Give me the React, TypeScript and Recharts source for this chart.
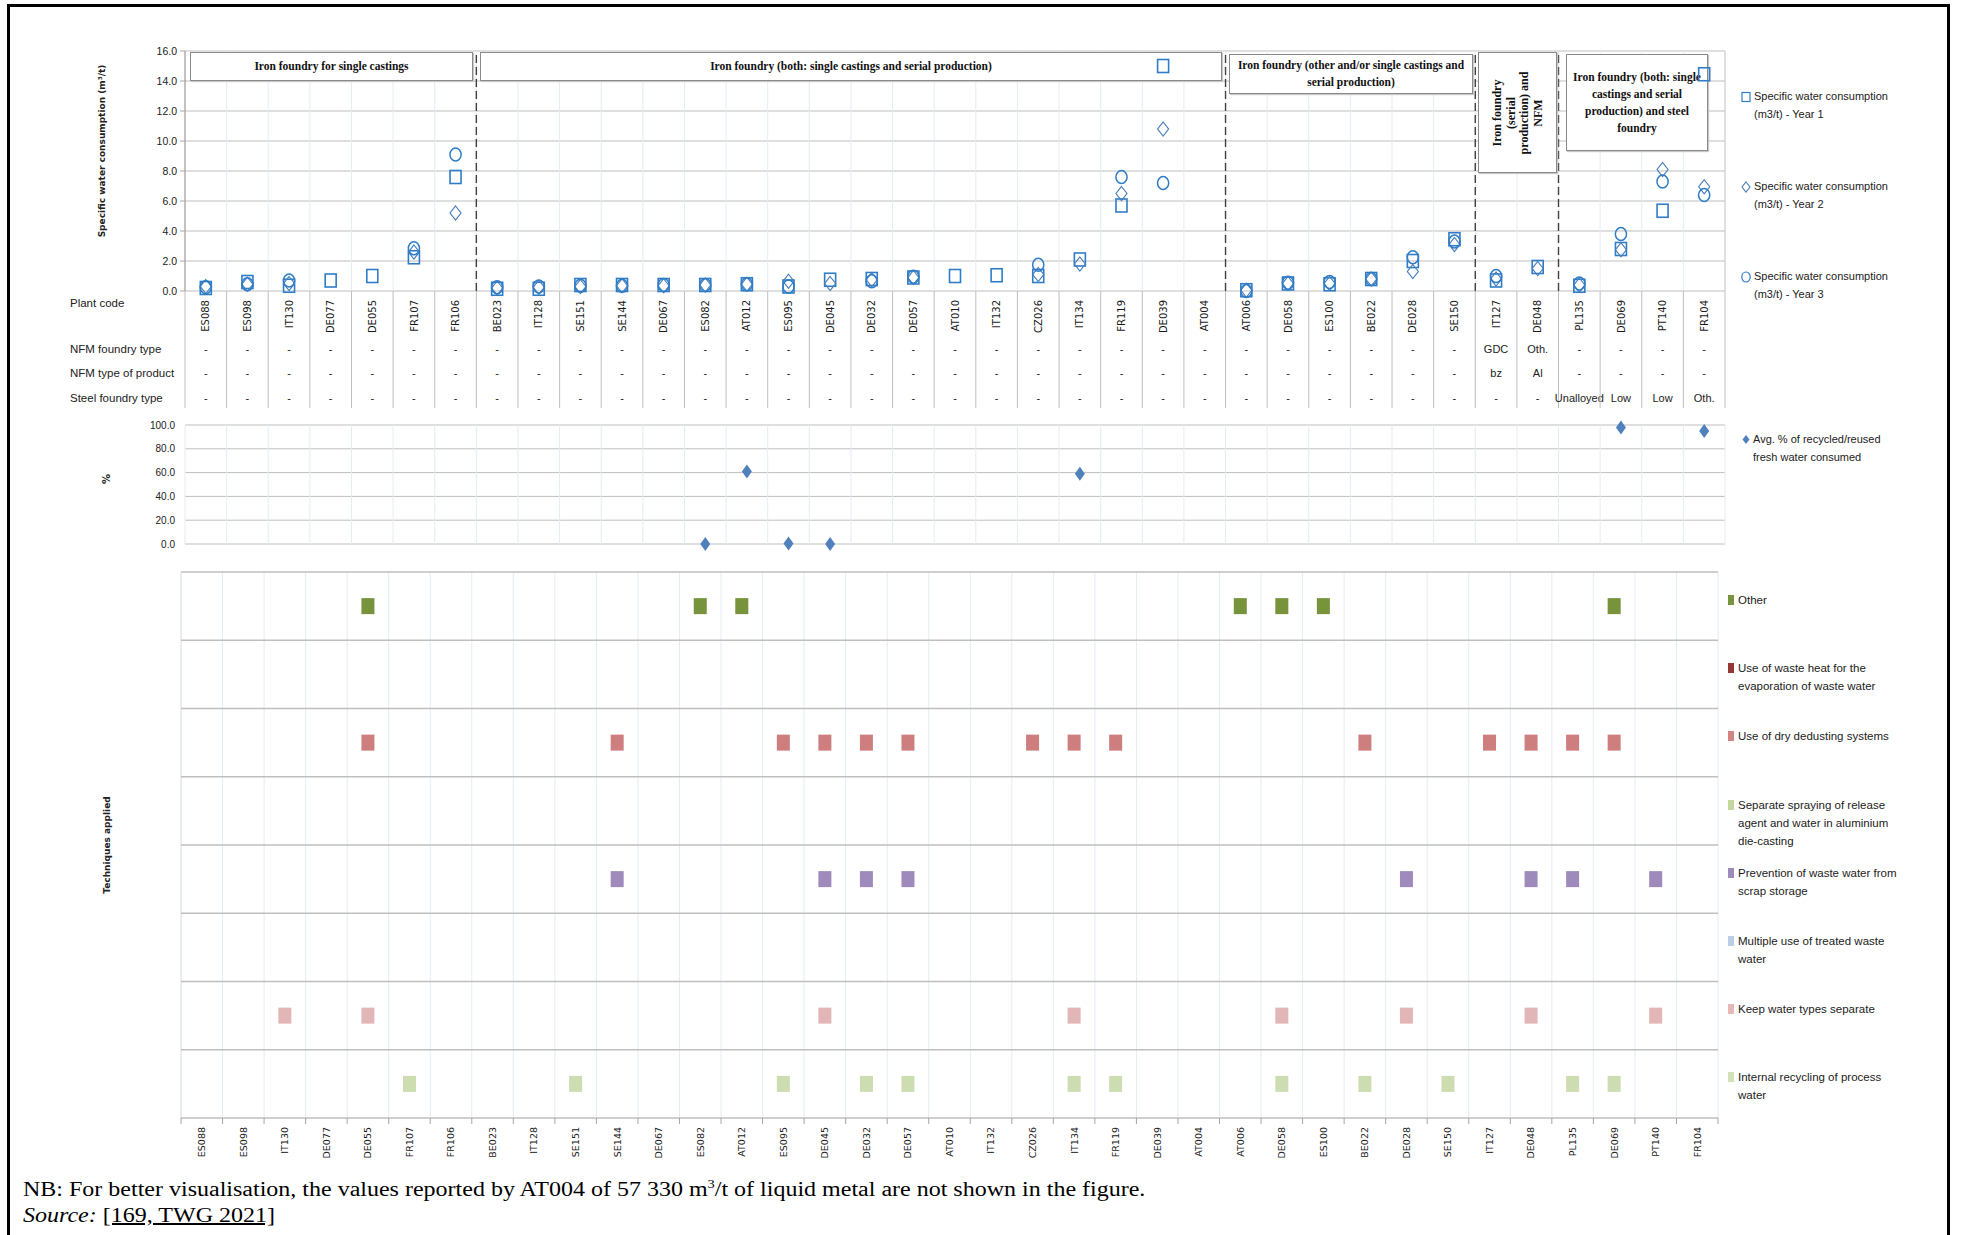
import React from "react";
import {
  CartesianGrid,
  ReferenceLine,
  Scatter,
  ScatterChart,
  XAxis,
  YAxis,
} from "recharts";

// Plant codes, left to right. Same order in every panel.
const plantCodes = [
  "ES088", "ES098", "IT130", "DE077", "DE055", "FR107", "FR106", "BE023", "IT128", "SE151",
  "SE144", "DE067", "ES082", "AT012", "ES095", "DE045", "DE032", "DE057", "AT010", "IT132",
  "CZ026", "IT134", "FR119", "DE039", "AT004", "AT006", "DE058", "ES100", "BE022", "DE028",
  "SE150", "IT127", "DE048", "PL135", "DE069", "PT140", "FR104",
];

const nfmFoundryType = [
  "-", "-", "-", "-", "-", "-", "-", "-", "-", "-",
  "-", "-", "-", "-", "-", "-", "-", "-", "-", "-",
  "-", "-", "-", "-", "-", "-", "-", "-", "-", "-",
  "-", "GDC", "Oth.", "-", "-", "-", "-",
];
const nfmProductType = [
  "-", "-", "-", "-", "-", "-", "-", "-", "-", "-",
  "-", "-", "-", "-", "-", "-", "-", "-", "-", "-",
  "-", "-", "-", "-", "-", "-", "-", "-", "-", "-",
  "-", "bz", "Al", "-", "-", "-", "-",
];
const steelFoundryType = [
  "-", "-", "-", "-", "-", "-", "-", "-", "-", "-",
  "-", "-", "-", "-", "-", "-", "-", "-", "-", "-",
  "-", "-", "-", "-", "-", "-", "-", "-", "-", "-",
  "-", "-", "-", "Unalloyed", "Low", "Low", "Oth.",
];

// Specific water consumption (m3/t), null = not reported
const waterYear1 = [
  0.2, 0.6, 0.35, 0.7, 1.0, 2.25, 7.6, 0.15, 0.15, 0.4,
  0.4, 0.4, 0.4, 0.45, 0.3, 0.75, 0.8, 0.9, 1.0, 1.05,
  1.0, 2.1, 5.7, 15.0, null, 0.05, 0.5, 0.45, 0.8, 2.0,
  3.45, 0.7, 1.6, 0.35, 2.8, 5.35, 14.45,
];
const waterYear2 = [
  0.3, 0.45, 0.5, null, null, 2.6, 5.2, 0.2, 0.25, 0.3,
  0.35, 0.35, 0.4, 0.45, 0.65, 0.5, 0.75, 0.9, null, null,
  1.1, 1.8, 6.5, 10.8, null, 0.05, 0.5, 0.5, 0.8, 1.3,
  3.1, 0.8, 1.5, 0.4, 2.75, 8.1, 6.95,
];
const waterYear3 = [
  0.25, 0.45, 0.7, null, null, 2.85, 9.1, 0.25, 0.3, 0.35,
  0.35, 0.4, 0.4, 0.45, 0.3, null, 0.65, 0.95, null, null,
  1.75, null, 7.6, 7.2, null, 0.0, 0.55, 0.6, 0.8, 2.25,
  3.3, 1.0, null, 0.5, 3.8, 7.3, 6.4,
];

// Avg. % of recycled/reused fresh water consumed
const recycledPct = [
  null, null, null, null, null, null, null, null, null, null,
  null, null, 0, 61, 0.5, 0, null, null, null, null,
  null, 59, null, null, null, null, null, null, null, null,
  null, null, null, null, 98, null, 95,
];

// Techniques applied (plants per technique)
const techOther = ["DE055", "ES082", "AT012", "AT006", "DE058", "ES100", "DE069"];
const techWasteHeat: string[] = [];
const techDryDedusting = [
  "DE055", "SE144", "ES095", "DE045", "DE032", "DE057", "CZ026",
  "IT134", "FR119", "BE022", "IT127", "DE048", "PL135", "DE069",
];
const techSeparateSpraying: string[] = [];
const techScrapStorage = ["SE144", "DE045", "DE032", "DE057", "DE028", "DE048", "PL135", "PT140"];
const techMultipleUse: string[] = [];
const techKeepSeparate = ["IT130", "DE055", "DE045", "IT134", "DE058", "DE028", "DE048", "PT140"];
const techInternalRecycling = [
  "FR107", "SE151", "ES095", "DE032", "DE057", "IT134",
  "FR119", "DE058", "BE022", "SE150", "PL135", "DE069",
];

// top to bottom, as stacked in the lower panel
const techniques = [
  { name: "Other", plants: techOther, color: "#77933C", key: "#77933C" },
  { name: "Use of waste heat for the\nevaporation of waste water", plants: techWasteHeat, color: "#953735", key: "#953735" },
  { name: "Use of dry dedusting systems", plants: techDryDedusting, color: "#CE7E7E", key: "#D28484" },
  { name: "Separate spraying of release\nagent and water in aluminium\ndie-casting", plants: techSeparateSpraying, color: "#C3D69B", key: "#C3D69B" },
  { name: "Prevention of waste water from\nscrap storage", plants: techScrapStorage, color: "#9F8BBB", key: "#9F8BBB" },
  { name: "Multiple use of treated waste\nwater", plants: techMultipleUse, color: "#B9CDE5", key: "#B9CDE5" },
  { name: "Keep water types separate", plants: techKeepSeparate, color: "#E2B6B6", key: "#E6B9B8" },
  { name: "Internal recycling of process\nwater", plants: techInternalRecycling, color: "#CDDCB1", key: "#D2E1B6" },
];

const N = plantCodes.length;
const centers = plantCodes.map((_, i) => i + 0.5);
const bounds = [...plantCodes.map((_, i) => i), N];

const NARROW = "'Liberation Sans Narrow', 'Arial Narrow', sans-serif";
const VERDANA = "'DejaVu Sans', Verdana, sans-serif";
const SERIF = "'Liberation Serif', 'Times New Roman', serif";
const BLUE = "#2F7DC6";
const BLUE_D = "#4A7EBB";
const GRID = "#bfbfbf";
const VGRID = "#e4ecf6";

const toPoints = (vals: (number | null)[]) =>
  vals
    .map((v, i) => ({ x: i + 0.5, y: v, code: plantCodes[i] }))
    .filter((d) => d.y !== null);

// top panel geometry
const TOP_W = 1740;
const TOP_MR = 15;
const TOP_ML = 185;
const BW = (TOP_W - TOP_MR - TOP_ML) / N;

// bottom panel geometry
const BOT_W = 1733;
const BOT_MR = 15;
const BOT_ML = 181;
const BW2 = (BOT_W - BOT_MR - BOT_ML) / N;

function SquareMark(p: any) {
  return <rect x={p.cx - 5.5} y={p.cy - 6.5} width={11} height={13} fill="none" stroke={BLUE} strokeWidth={1.6} />;
}
function DiamondMark(p: any) {
  const { cx, cy } = p;
  return (
    <polygon
      points={`${cx},${cy - 7} ${cx + 5.5},${cy} ${cx},${cy + 7} ${cx - 5.5},${cy}`}
      fill="none"
      stroke={BLUE_D}
      strokeWidth={1.2}
    />
  );
}
function CircleMark(p: any) {
  return <ellipse cx={p.cx} cy={p.cy} rx={5.6} ry={6.5} fill="none" stroke={BLUE} strokeWidth={1.5} />;
}
function NoMark() {
  return <g />;
}
function PctMark(p: any) {
  const { cx, cy } = p;
  return <polygon points={`${cx},${cy - 7} ${cx + 5},${cy} ${cx},${cy + 7} ${cx - 5},${cy}`} fill="#4F81BD" />;
}
function techShape(color: string) {
  return (p: any) => <rect x={p.cx - 6.5} y={p.cy - 8} width={13} height={16} fill={color} />;
}

// plant code + the three info rows under the top panel
function PlantTick(props: any) {
  const { x, y, payload } = props;
  const i = Math.floor(payload.value);
  const left = x - BW / 2;
  const txt = { fontFamily: NARROW, fontSize: 11, fill: "#222", textAnchor: "middle" as const };
  return (
    <g>
      <line x1={left} x2={left} y1={y} y2={y + 117} stroke={GRID} />
      {i === N - 1 && <line x1={x + BW / 2} x2={x + BW / 2} y1={y} y2={y + 117} stroke={GRID} />}
      <text
        transform={`translate(${x + 3.6},${y + 9}) rotate(-90)`}
        textAnchor="end"
        fontFamily={VERDANA}
        fontSize={10}
        fill="#1a1a1a"
      >
        {plantCodes[i]}
      </text>
      <text x={x} y={y + 62} {...txt}>{nfmFoundryType[i]}</text>
      <text x={x} y={y + 86} {...txt}>{nfmProductType[i]}</text>
      <text x={x} y={y + 111} {...txt}>{steelFoundryType[i]}</text>
    </g>
  );
}

function BottomTick(props: any) {
  const { x, y, payload } = props;
  const i = Math.floor(payload.value);
  const left = x - BW2 / 2;
  return (
    <g>
      <line x1={left} x2={left} y1={y} y2={y + 6} stroke="#a6a6a6" />
      {i === N - 1 && <line x1={x + BW2 / 2} x2={x + BW2 / 2} y1={y} y2={y + 6} stroke="#a6a6a6" />}
      <text
        transform={`translate(${x + 3.4},${y + 9}) rotate(-90)`}
        textAnchor="end"
        fontFamily={VERDANA}
        fontSize={9.5}
        fill="#1a1a1a"
      >
        {plantCodes[i]}
      </text>
    </g>
  );
}

function Rot({ x, y, children, style }: any) {
  return (
    <div
      style={{
        position: "absolute",
        left: x,
        top: y,
        transform: "translate(-50%,-50%) rotate(-90deg)",
        whiteSpace: "nowrap",
        ...style,
      }}
    >
      {children}
    </div>
  );
}

function GroupBox({ left, top, width, height, lines, fontSize = 11.5 }: any) {
  return (
    <div
      style={{
        position: "absolute",
        left,
        top,
        width,
        height,
        boxSizing: "border-box",
        border: "1.5px solid #8a8a8a",
        boxShadow: "1px 1px 1px #c8c8c8",
        background: "#fff",
        display: "flex",
        flexDirection: "column",
        alignItems: "center",
        justifyContent: "center",
        fontFamily: SERIF,
        fontWeight: "bold",
        fontSize,
        lineHeight: "17px",
        color: "#111",
        textAlign: "center",
      }}
    >
      {lines.map((l: string) => (
        <div key={l} style={{ whiteSpace: "nowrap" }}>{l}</div>
      ))}
    </div>
  );
}

function LegendText({ x, y, lines, size = 11.5 }: any) {
  return (
    <div style={{ position: "absolute", left: x, top: y, fontFamily: NARROW, fontSize: size, lineHeight: "18px", color: "#222" }}>
      {lines.map((l: string) => (
        <div key={l} style={{ whiteSpace: "nowrap" }}>{l}</div>
      ))}
    </div>
  );
}

export default function App() {
  const y1 = toPoints(waterYear1);
  const y2 = toPoints(waterYear2);
  const y3 = toPoints(waterYear3);
  const pct = toPoints(recycledPct);

  const rowLabel = (text: string, cy: number) => (
    <div style={{ position: "absolute", left: 70, top: cy, transform: "translateY(-50%)", fontFamily: NARROW, fontSize: 11.5, color: "#222", whiteSpace: "nowrap" }}>
      {text}
    </div>
  );

  return (
    <div style={{ position: "absolute", left: 0, top: 0, width: 1961, height: 1235, background: "#fff", overflow: "hidden" }}>
      {/* frame */}
      <div style={{ position: "absolute", left: 7, top: 4, width: 1943, height: 1260, border: "3px solid #000", boxSizing: "border-box" }} />

      {/* ---------- top panel: grid + axes ---------- */}
      <div style={{ position: "absolute", left: 0, top: 0 }}>
        <ScatterChart width={TOP_W} height={408} margin={{ top: 51, right: TOP_MR, left: 0, bottom: 0 }}>
          <CartesianGrid vertical={false} stroke={GRID} />
          <XAxis
            type="number"
            dataKey="x"
            domain={[0, N]}
            ticks={centers}
            interval={0}
            height={117}
            axisLine={false}
            tickLine={false}
            tickSize={0}
            tickMargin={0}
            tick={<PlantTick />}
          />
          <YAxis
            type="number"
            dataKey="y"
            domain={[0, 16]}
            ticks={[0, 2, 4, 6, 8, 10, 12, 14, 16]}
            width={185}
            stroke="#a6a6a6"
            tickSize={5}
            tickMargin={3}
            tickFormatter={(v: number) => v.toFixed(1)}
            tick={{ fontFamily: NARROW, fontSize: 10.5, fill: "#222" }}
          />
          {bounds.map((b) => (
            <ReferenceLine key={b} x={b} stroke={b === 0 || b === N ? GRID : VGRID} />
          ))}
          {[7, 25, 31, 33].map((b) => (
            <ReferenceLine key={`d${b}`} x={b} stroke="#404040" strokeWidth={1.4} strokeDasharray="8 4" />
          ))}
          {/* markers are drawn in the layer above the group boxes */}
          <Scatter data={y1} shape={NoMark} isAnimationActive={false} />
        </ScatterChart>
      </div>

      {/* group boxes (above grid, below markers) */}
      <GroupBox left={190} top={52} width={283} height={29} lines={["Iron foundry for single castings"]} />
      <GroupBox left={480} top={52} width={742} height={29} lines={["Iron foundry (both: single castings and serial production)"]} />
      <GroupBox left={1229} top={54} width={244} height={40} lines={["Iron foundry (other and/or single castings and", "serial production)"]} />
      <div
        style={{
          position: "absolute",
          left: 1478,
          top: 52,
          width: 79,
          height: 121,
          boxSizing: "border-box",
          border: "1.5px solid #8a8a8a",
          boxShadow: "1px 1px 1px #c8c8c8",
          background: "#fff",
        }}
      />
      <Rot x={1518} y={113} style={{ fontFamily: SERIF, fontWeight: "bold", fontSize: 12, lineHeight: "13.5px", textAlign: "center", color: "#111" }}>
        <div>Iron foundry</div>
        <div>(serial</div>
        <div>production) and</div>
        <div>NFM</div>
      </Rot>
      <GroupBox left={1566} top={54} width={142} height={97} lines={["Iron foundry (both: single", "castings and serial", "production) and steel", "foundry"]} />

      {/* ---------- top panel: markers ---------- */}
      <div style={{ position: "absolute", left: 0, top: 0 }}>
        <ScatterChart width={TOP_W} height={408} margin={{ top: 51, right: TOP_MR, left: TOP_ML, bottom: 117 }}>
          <XAxis type="number" dataKey="x" domain={[0, N]} hide />
          <YAxis type="number" dataKey="y" domain={[0, 16]} hide />
          <Scatter name="Year 1" data={y1} shape={SquareMark} isAnimationActive={false} />
          <Scatter name="Year 2" data={y2} shape={DiamondMark} isAnimationActive={false} />
          <Scatter name="Year 3" data={y3} shape={CircleMark} isAnimationActive={false} />
        </ScatterChart>
      </div>

      <Rot x={102} y={151} style={{ fontFamily: VERDANA, fontWeight: "bold", fontSize: 9, color: "#222" }}>
        Specific water consumption (m³/t)
      </Rot>
      {rowLabel("Plant code", 303)}
      {rowLabel("NFM foundry type", 349)}
      {rowLabel("NFM type of product", 373)}
      {rowLabel("Steel foundry type", 398)}

      {/* top legend */}
      <svg style={{ position: "absolute", left: 1740, top: 85 }} width={14} height={210}>
        <rect x={2} y={7.5} width={8} height={9} fill="none" stroke={BLUE} strokeWidth={1.2} />
        <polygon points="6,97 10,102 6,107 2,102" fill="none" stroke={BLUE_D} strokeWidth={1.1} />
        <ellipse cx={6} cy={192} rx={4.2} ry={5} fill="none" stroke={BLUE} strokeWidth={1.2} />
      </svg>
      <LegendText x={1754} y={87} size={11} lines={["Specific water consumption", "(m3/t) - Year 1"]} />
      <LegendText x={1754} y={177} size={11} lines={["Specific water consumption", "(m3/t) - Year 2"]} />
      <LegendText x={1754} y={267} size={11} lines={["Specific water consumption", "(m3/t) - Year 3"]} />

      {/* ---------- middle panel: recycled % ---------- */}
      <div style={{ position: "absolute", left: 0, top: 415 }}>
        <ScatterChart width={TOP_W} height={140} margin={{ top: 10, right: TOP_MR, left: 0, bottom: 11 }}>
          <CartesianGrid vertical={false} stroke={GRID} />
          <XAxis type="number" dataKey="x" domain={[0, N]} hide />
          <YAxis
            type="number"
            dataKey="y"
            domain={[0, 100]}
            ticks={[0, 20, 40, 60, 80, 100]}
            width={185}
            axisLine={false}
            tickLine={false}
            tickSize={0}
            tickMargin={10}
            tickFormatter={(v: number) => v.toFixed(1)}
            tick={{ fontFamily: NARROW, fontSize: 10, fill: "#222" }}
          />
          {bounds.map((b) => (
            <ReferenceLine key={b} x={b} stroke={VGRID} />
          ))}
          <Scatter name="Avg. % of recycled/reused fresh water consumed" data={pct} shape={PctMark} isAnimationActive={false} />
        </ScatterChart>
      </div>
      <Rot x={106} y={479} style={{ fontFamily: VERDANA, fontWeight: "bold", fontSize: 10, color: "#222" }}>
        %
      </Rot>
      <svg style={{ position: "absolute", left: 1740, top: 433 }} width={14} height={14}>
        <polygon points="6,2 9.5,6.5 6,11 2.5,6.5" fill="#4F81BD" />
      </svg>
      <LegendText x={1753} y={430} size={11} lines={["Avg. % of recycled/reused", "fresh water consumed"]} />

      {/* ---------- bottom panel: techniques applied ---------- */}
      <div style={{ position: "absolute", left: 0, top: 560 }}>
        <ScatterChart width={BOT_W} height={610} margin={{ top: 12, right: BOT_MR, left: BOT_ML, bottom: 0 }}>
          <XAxis
            type="number"
            dataKey="x"
            domain={[0, N]}
            ticks={centers}
            interval={0}
            height={52}
            axisLine={false}
            tickLine={false}
            tickSize={0}
            tickMargin={0}
            tick={<BottomTick />}
          />
          <YAxis type="number" dataKey="y" domain={[0, techniques.length]} hide />
          {bounds.map((b) => (
            <ReferenceLine key={b} x={b} stroke={b === 0 ? "#d3dbe6" : VGRID} />
          ))}
          {techniques.map((_, k) => (
            <ReferenceLine key={`h${k}`} y={k} stroke={GRID} strokeWidth={1.3} />
          ))}
          <ReferenceLine y={techniques.length} stroke={GRID} strokeWidth={1.3} />
          {techniques.map((t, k) => (
            <Scatter
              key={t.name}
              name={t.name}
              data={t.plants.map((c) => ({ x: plantCodes.indexOf(c) + 0.5, y: techniques.length - k - 0.5 }))}
              shape={techShape(t.color)}
              isAnimationActive={false}
            />
          ))}
        </ScatterChart>
      </div>
      <Rot x={107} y={845} style={{ fontFamily: VERDANA, fontWeight: "bold", fontSize: 9, color: "#222" }}>
        Techniques applied
      </Rot>

      {/* techniques legend */}
      {techniques.map((t, k) => {
        const top = 591 + k * 68.2;
        return (
          <React.Fragment key={t.name}>
            <div style={{ position: "absolute", left: 1728, top: top + 4, width: 6, height: 10, background: t.key }} />
            <LegendText x={1738} y={top} lines={t.name.split("\n")} />
          </React.Fragment>
        );
      })}

      {/* note + source */}
      <div
        style={{
          position: "absolute",
          left: 23,
          top: 1176,
          fontFamily: SERIF,
          fontSize: 20,
          lineHeight: "26px",
          color: "#000",
          whiteSpace: "nowrap",
          transform: "scaleX(1.2)",
          transformOrigin: "left top",
        }}
      >
        <div>
          NB: For better visualisation, the values reported by AT004 of 57 330 m<sup style={{ fontSize: 12, lineHeight: 0 }}>3</sup>/t of liquid metal are not shown in the figure.
        </div>
        <div>
          <i>Source:</i>{" "}
          <span style={{ textDecoration: "underline", textDecorationThickness: 2 }}>[169, TWG 2021]</span>
        </div>
      </div>
    </div>
  );
}
